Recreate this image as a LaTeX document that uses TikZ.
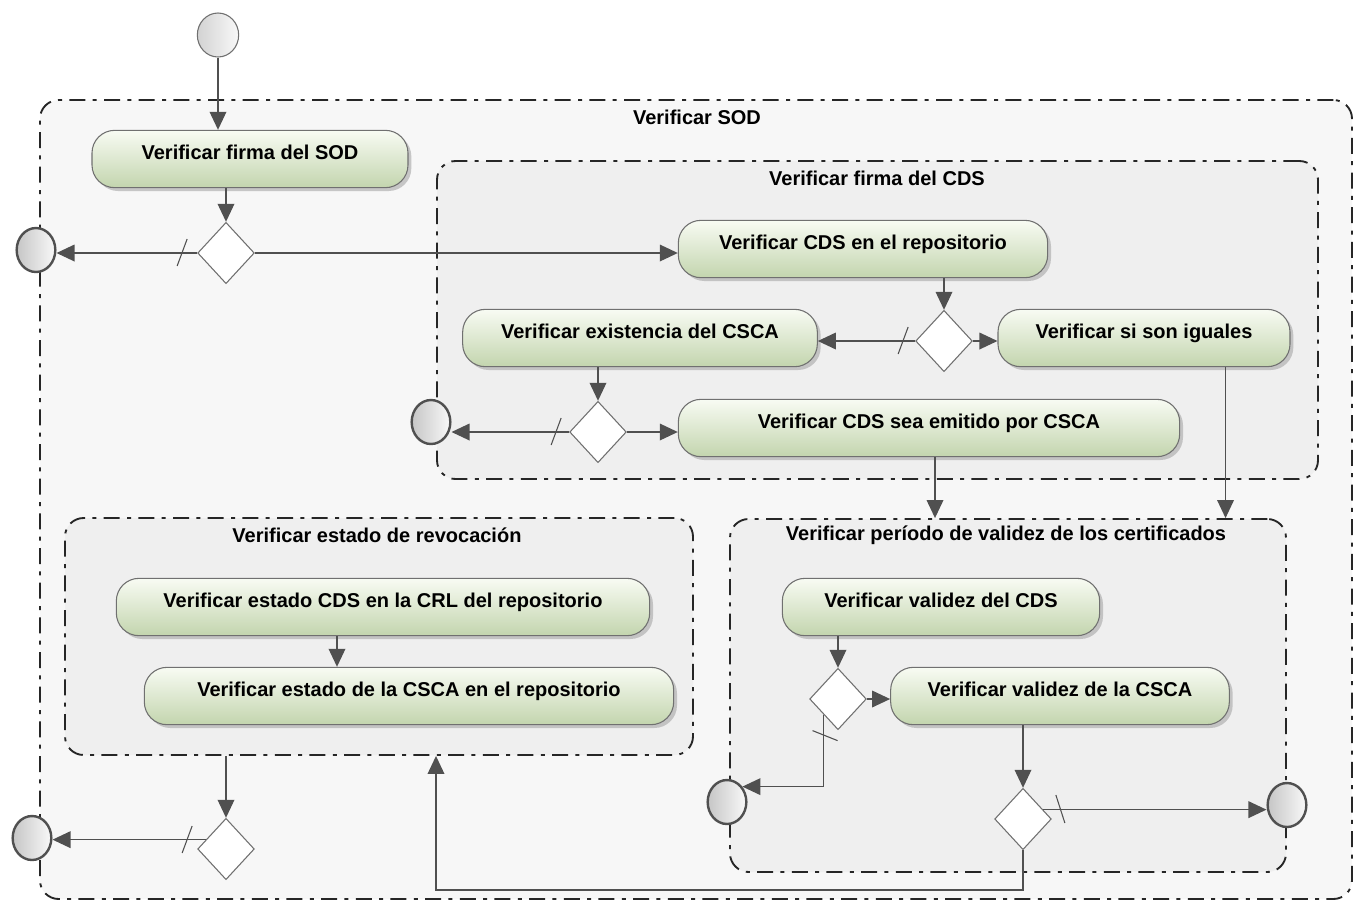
\documentclass[tikz,border=0pt]{standalone}
\usepackage{fontspec}
\setmainfont{Liberation Sans}
\usetikzlibrary{arrows.meta,shapes.geometric,shadows,fit,calc}

\definecolor{flowline}{HTML}{505050}
\definecolor{acttop}{HTML}{F8FBF3}
\definecolor{actbot}{HTML}{C3D5AE}
\definecolor{actborder}{HTML}{707070}
\definecolor{outerfill}{HTML}{F7F7F7}
\definecolor{innerfill}{HTML}{EFEFEF}
\definecolor{frameline}{HTML}{262626}

\tikzset{
  action/.style={rectangle, rounded corners=17pt, draw=actborder, line width=0.8pt,
    top color=acttop, bottom color=actbot, minimum height=43pt,
    text height=11pt, text depth=11pt, inner sep=0pt,
    font=\fontsize{15}{18}\selectfont\bfseries,
    drop shadow={shadow xshift=2.5pt, shadow yshift=-2.5pt, fill=black!35, opacity=0.6}},
  decision/.style={diamond, draw=actborder, fill=white, line width=0.8pt,
    minimum width=42.5pt, minimum height=46pt, inner sep=0pt},
  finalnode/.style={ellipse, draw=flowline, line width=1.8pt, left color=gray!45,
    right color=gray!5, minimum width=29pt, minimum height=33pt, inner sep=0pt},
  startnode/.style={ellipse, draw=actborder, line width=0.8pt, left color=gray!35,
    right color=gray!5, minimum width=31pt, minimum height=33pt, inner sep=0pt},
  region/.style={draw=frameline, line width=1.4pt, rounded corners=14pt,
    dash pattern=on 12pt off 5.5pt on 3pt off 5.5pt, inner sep=0pt},
  regtitle/.style={font=\fontsize{15}{18}\selectfont\bfseries, inner sep=0pt},
  flow/.style={draw=flowline, line width=1pt, -{Triangle[length=13.5pt,width=12.5pt]}},
  guard/.style={draw=flowline, line width=0.8pt},
}

\begin{document}
\begin{tikzpicture}[x=0.75pt,y=0.75pt,yscale=-1,xscale=1]
\useasboundingbox (0,0) rectangle (1357,901);

% Regions
\node[region, fill=outerfill, fit={(40,100) (1352,899)}] (sodreg) {};
\node[region, fill=innerfill, fit={(437,161) (1318,479)}] (cdsreg) {};
\node[region, fill=innerfill, fit={(65,518) (693,755)}] (revreg) {};
\node[region, fill=innerfill, fit={(730,519) (1286,872)}] (perreg) {};

% Region titles
\node[regtitle] (sodtitle) at (697,117) {Verificar SOD};
\node[regtitle] (cdstitle) at (877,178) {Verificar firma del CDS};
\node[regtitle] (revtitle) at (377,535) {Verificar estado de revocación};
\node[regtitle] (pertitle) at (1006,535) {Verificar período de validez de los certificados};

% Actions
\node[action, minimum width=237pt] (sodact) at (250,159) {Verificar firma del SOD};
\node[action, minimum width=277pt] (repo) at (863,249) {Verificar CDS en el repositorio};
\node[action, minimum width=219pt] (iguales) at (1144,338) {Verificar si son iguales};
\node[action, minimum width=266pt] (exist) at (640,338) {Verificar existencia del CSCA};
\node[action, minimum width=376pt] (emit) at (929,428) {Verificar CDS sea emitido por CSCA};
\node[action, minimum width=238pt] (valcds) at (941,607) {Verificar validez del CDS};
\node[action, minimum width=254pt] (valcsca) at (1060,696) {Verificar validez de la CSCA};
\node[action, minimum width=400pt] (crl) at (383,607) {Verificar estado CDS en la CRL del repositorio};
\node[action, minimum width=397pt] (estcsca) at (409,696) {Verificar estado de la CSCA en el repositorio};

% Decisions
\node[decision] (d1) at (226,253) {};
\node[decision] (d2) at (944,341) {};
\node[decision] (d3) at (598,432) {};
\node[decision] (d4) at (838,699) {};
\node[decision] (d5) at (1023,819) {};
\node[decision] (d6) at (226,849) {};

% Start and final nodes
\node[startnode] (start) at (218,35) {};
\node[finalnode] (fin1) at (36,250) {};
\node[finalnode] (fin2) at (431,422) {};
\node[finalnode] (fin3) at (727,802) {};
\node[finalnode] (fin4) at (1287,805) {};
\node[finalnode] (fin5) at (32,838) {};

% Flows
\draw[flow] (start.south) -- (start.south |- sodact.north);
\draw[flow] (d1.north |- sodact.south) -- (d1.north);
\draw[flow] (d1.west) -- (d1.west -| fin1.east);
\draw[flow] (d1.east) -- (d1.east -| repo.west);
\draw[flow] (d2.north |- repo.south) -- (d2.north);
\draw[flow] (d2.west) -- (d2.west -| exist.east);
\draw[flow] (d2.east) -- (d2.east -| iguales.west);
\draw[flow] (d3.north |- exist.south) -- (d3.north);
\draw[flow] (d3.west) -- (d3.west -| fin2.east);
\draw[flow] (d3.east) -- (d3.east -| emit.west);
\draw[flow] ($(emit.south)+(6,0)$) coordinate (emitout) -- (emitout |- perreg.north);
\draw[flow] ($(iguales.south east)+(-65,0)$) coordinate (igout) -- (igout |- perreg.north);
\draw[flow] (d4.north |- valcds.south) -- (d4.north);
\draw[flow] (d4.east) -- (d4.east -| valcsca.west);
\draw[flow] (d4.south west) |- (fin3.45);
\draw[flow] (d5.north |- valcsca.south) -- (d5.north);
\draw[flow] ($(d5.east)!0.3!(d5.north)$) coordinate (d5out) -- (d5out -| fin4.west);
\coordinate (loopturn) at (436,890);
\draw[flow] (d5.south) |- (loopturn) -- (loopturn |- revreg.south);
\draw[flow] ($(crl.south)+(-46,0)$) coordinate (crlout) -- (crlout |- estcsca.north);
\draw[flow] (d6.north |- revreg.south) -- (d6.north);
\draw[flow] ($(d6.west)!0.3!(d6.north)$) coordinate (d6out) -- (d6out -| fin5.east);

% Guard marks
\draw[guard] ($(d1.west)+(-20,13)$) -- ++(10,-27);
\draw[guard] ($(d2.west)+(-17,13)$) -- ++(10,-27);
\draw[guard] ($(d3.west)+(-18,13)$) -- ++(10,-27);
\draw[guard] ($(d4.south west)+(-11,16)$) -- ++(25,10);
\draw[guard] ($(d5.east)+(4,-24)$) -- ++(9,28);
\draw[guard] ($(d6.west)+(-15,4)$) -- ++(10,-27);

\end{tikzpicture}
\end{document}
